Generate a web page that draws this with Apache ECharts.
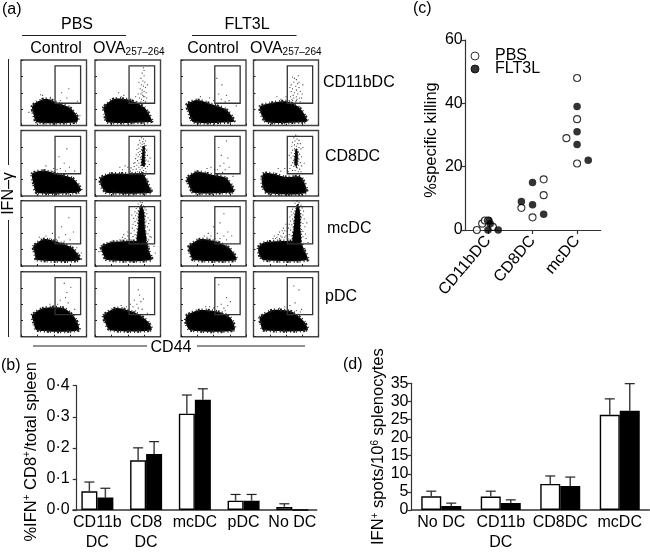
<!DOCTYPE html>
<html><head><meta charset="utf-8">
<style>html,body{margin:0;padding:0;background:#fff}#c{width:650px;height:553px}</style>
<script src="https://cdn.jsdelivr.net/npm/echarts@6/dist/echarts.min.js"></script>
</head><body><div id="c"></div>
<script>
// ---------- panel (b) ----------
const bCats = ['CD11b\nDC','CD8\nDC','mcDC','pDC','No DC'];
const bPBS = [0.06,0.16,0.31,0.03,0.01];
const bFLT = [0.04,0.18,0.355,0.03,0];
const bPBSTop = [0.09,0.20,0.37,0.05,0.02];
const bFLTTop = [0.07,0.22,0.39,0.05,0];
// ---------- panel (d) ----------
const dCats = ['No DC','CD11b\nDC','CD8DC','mcDC'];
const dPBS = [3.8,3.7,7.2,26.3];
const dFLT = [1.1,1.9,6.6,27.4];
const dPBSTop = [5.2,5.2,9.4,30.7];
const dFLTTop = [1.9,2.8,9.1,34.9];
// ---------- panel (c) ----------
const cCats = ['CD11bDC','CD8DC','mcDC'];
const cPBS = [[-0.25,0],[-0.13,2],[-0.07,3],[0.0,3],[0.11,1],[0.75,7],[1,4],[1.25,11],[1.25,16],[1.76,29],[2,48],[2,35],[2,21]];
const cFLT = [[0,0],[0.02,3],[0.05,2],[0.23,0],[0.75,9],[1,15],[1,8],[1.25,5],[2,39],[2,31],[2,27],[2.25,22]];
// ---------- panel (a): gate [xMin,xMax,yMin,yMax] and cell outlines, CD44 / IFN-g in % of plot ----------
const gate = [52,91,34,91];
const blobs = [
 [[17,29],[24,36],[39,41],[57,34],[75,27],[87,12],[85,5],[24,5],[19,17]],
 [[13,27],[20,35],[30,41],[53,39],[76,27],[87,7],[80,5],[18,5],[15,17]],
 [[9,32],[24,39],[49,32],[70,24],[82,7],[75,5],[19,5],[12,20]],
 [[10,29],[25,34],[50,37],[71,27],[83,7],[75,5],[20,5],[12,17]],
 [[17,34],[34,39],[54,34],[79,27],[92,9],[85,5],[24,5],[19,19]],
 [[8,27],[23,34],[56,34],[73,34],[83,14],[86,5],[18,5],[10,14]],
 [[9,27],[24,37],[50,32],[70,27],[82,7],[75,5],[19,5],[12,17]],
 [[15,34],[30,34],[50,29],[73,29],[81,5],[20,5],[13,19]],
 [[19,30],[34,41],[55,37],[79,27],[90,9],[24,9],[21,19]],
 [[10,30],[28,37],[78,37],[82,24],[86,9],[18,9],[12,19]],
 [[12,30],[29,41],[55,37],[75,27],[85,9],[19,9],[14,19]],
 [[8,30],[20,37],[71,37],[78,25],[83,9],[15,9],[8,19]],
 [[17,33],[34,44],[65,44],[83,28],[88,10],[24,10],[19,23]],
 [[13,33],[33,44],[63,36],[81,23],[86,10],[23,10],[15,23]],
 [[9,33],[29,41],[59,38],[77,28],[82,10],[14,10],[7,23]],
 [[10,30],[30,41],[60,38],[78,23],[83,10],[15,10],[11,20]]
];
// dense column of responding cells, only where the dots merge together
const cores = {
 5:[[71,46],[72,62],[73,76],[76,76],[76,60],[76,46]],
 7:[[63,50],[64,66],[65,72],[68,68],[68,52],[66,44]],
 9:[[64,37],[66,60],[67,82],[71,93],[75,82],[76,60],[78,37]],
 11:[[60,37],[62,58],[64,80],[68,95],[72,80],[72,58],[73,37]]
};
const dots = [
 [[45,43],[62,50],[73,56],[70,42],[60,38],[86,37],[30,47],[12,20],[90,15],[33,46],[48,40]],
 [[74,88],[72,80],[75,76],[70,72],[73,68],[76,66],[71,62],[74,60],[77,58],[69,56],[72,54],[75,52],[78,50],[70,48],[73,46],[76,44],[68,42],[71,40],[74,38],[77,36],[66,48],[79,42],[80,62],[67,66],[75,84],[62,44],[55,40],[44,46],[40,44],[36,50],[72,50],[74,44],[70,36],[64,36]],
 [[55,72],[63,62],[70,46],[58,48],[74,38],[62,40],[68,36],[44,42],[50,38],[30,44],[85,30]],
 [[60,74],[66,70],[62,66],[68,64],[58,62],[65,60],[70,58],[60,56],[66,54],[72,52],[58,52],[63,50],[68,48],[61,46],[66,44],[71,42],[57,44],[62,42],[67,40],[60,38],[65,36],[72,36],[55,38],[69,76],[75,48],[63,72],[56,58],[70,66],[50,44],[42,40],[36,44],[74,42],[76,62],[66,38],[59,40]],
 [[70,72],[58,60],[66,50],[74,44],[60,42],[82,38],[68,38],[50,42],[46,38],[38,46],[55,40]],
 [[71,89],[74,87],[68,85],[73,83],[77,84],[69,81],[72,79],[75,80],[66,78],[78,77],[70,76],[73,75],[76,73],[67,73],[64,71],[71,71],[79,70],[69,68],[74,68],[66,66],[77,66],[71,65],[63,63],[68,63],[73,62],[80,62],[66,60],[70,59],[76,59],[62,57],[69,56],[74,56],[78,55],[65,54],[71,53],[81,53],[61,51],[67,50],[73,50],[77,49],[64,47],[70,47],[75,46],[80,45],[60,45],[67,44],[72,43],[77,42],[63,41],[69,40],[74,39],[58,40],[65,37],[71,37],[78,37],[54,38],[50,44],[46,46],[42,40],[38,44],[83,48],[59,50],[84,58],[55,43]],
 [[70,84],[58,74],[62,62],[72,58],[66,50],[60,46],[74,44],[56,40],[68,40],[46,44],[52,40],[40,42],[80,30],[64,36]],
 [[65,93],[68,91],[62,89],[67,87],[70,85],[64,84],[60,82],[68,80],[72,80],[63,78],[66,76],[59,76],[70,74],[63,72],[67,71],[73,72],[60,70],[65,68],[69,67],[58,66],[63,65],[71,64],[66,63],[61,61],[68,60],[74,60],[58,58],[64,57],[70,56],[62,54],[67,53],[60,51],[72,51],[65,49],[69,47],[58,47],[62,45],[74,46],[67,43],[71,41],[56,42],[60,39],[64,39],[69,37],[73,37],[54,37],[78,50],[76,74],[55,62],[48,42],[42,38],[38,42]],
 [[62,60],[73,74],[68,48],[80,52],[48,50],[58,44],[75,40],[44,42],[38,46],[28,44],[66,38],[54,40],[85,28],[92,20]],
 [[69,98],[72,97],[66,95],[71,94],[74,92],[65,91],[68,90],[76,89],[63,88],[73,87],[78,86],[66,85],[61,83],[64,81],[76,82],[79,80],[62,77],[66,76],[77,76],[81,74],[59,73],[64,72],[75,71],[78,69],[61,68],[65,66],[76,66],[82,65],[58,64],[62,62],[77,61],[80,60],[57,58],[64,57],[75,56],[83,55],[60,54],[65,52],[78,52],[81,49],[55,50],[61,48],[76,47],[84,45],[58,45],[63,43],[79,42],[82,40],[50,46],[46,42],[42,44],[38,40],[53,41],[48,38],[44,38],[56,78],[84,70],[86,44],[90,30],[92,20],[6,22],[8,28],[50,52],[44,48]],
 [[60,66],[66,80],[50,60],[56,50],[72,52],[78,46],[46,46],[42,50],[40,44],[60,42],[70,40],[52,42],[36,46],[66,46]],
 [[67,99],[70,97],[64,96],[68,94],[73,93],[62,91],[66,90],[75,89],[60,87],[71,87],[64,85],[77,84],[58,83],[62,81],[73,80],[76,78],[59,78],[63,76],[56,75],[74,74],[78,72],[60,72],[57,69],[62,68],[73,67],[76,65],[55,64],[59,63],[72,62],[79,60],[61,59],[54,58],[57,55],[74,56],[76,53],[52,53],[60,52],[73,50],[80,49],[55,48],[50,46],[58,46],[76,45],[81,42],[53,42],[48,44],[46,50],[44,54],[42,46],[40,42],[38,48],[36,44],[34,42],[48,54],[46,58],[52,58],[44,44],[50,64],[84,36],[82,66],[40,52],[32,46],[30,42]],
 [[56,50],[66,82],[76,76],[70,68],[60,56],[64,46],[72,52],[58,44],[50,48],[44,50],[82,42],[68,60]],
 [[66,72],[68,64],[60,56],[70,54],[64,50],[74,58],[58,46],[66,44],[72,42],[54,50],[62,40],[48,46],[40,48],[80,36]],
 [[58,80],[70,60],[76,54],[62,50],[72,48],[66,44],[56,46],[50,44],[44,46],[38,46],[68,40]],
 [[62,78],[70,72],[56,48],[64,52],[74,42],[48,46],[52,44],[40,44],[72,38],[66,40]]
];
const colX = [[21,86.5],[95,160.5],[181,246],[253.5,318.5]];
const rowY = [[60,125.5],[130.5,196],[200.7,266],[271.7,336.7]];

const FONT = '"Liberation Sans",Arial,sans-serif';
const FS = 16;
const grids=[],xAxes=[],yAxes=[],series=[];

function polygon(points,xi,yi,style,z,smooth){
  series.push({type:'custom',coordinateSystem:'cartesian2d',xAxisIndex:xi,yAxisIndex:yi,silent:true,z:z,clip:false,
    encode:{x:0,y:1},data:points,
    renderItem:(p,api)=>p.dataIndex?null:{type:'polygon',shape:{points:points.map(q=>api.coord(q)),smooth:smooth},style:style}});
}
let idx=0;
rowY.forEach((ry,r)=>colX.forEach((cx,c)=>{
  const k=grids.length;
  grids.push({left:cx[0],top:ry[0],width:cx[1]-cx[0],height:ry[1]-ry[0],show:true,borderWidth:1.4,borderColor:'#444',backgroundColor:'#fff'});
  xAxes.push({gridIndex:k,type:'value',min:0,max:100,interval:25,axisLine:{show:false},splitLine:{show:false},axisLabel:{show:false},
    axisTick:{inside:true,length:2,lineStyle:{color:'#222',width:1}}});
  yAxes.push({gridIndex:k,type:'value',min:0,max:100,interval:25,axisLine:{show:false},splitLine:{show:false},axisLabel:{show:false},
    axisTick:{inside:true,length:2,lineStyle:{color:'#222',width:1}}});
  polygon(blobs[idx],k,k,{fill:'#000',stroke:'#222',lineWidth:3,lineDash:[1,1,2,2,1,3]},3,0.25);
  if(cores[idx]) polygon(cores[idx],k,k,{fill:'#000',stroke:'#111',lineWidth:1.6,lineDash:[1,2]},4,0.2);
  series.push({type:'scatter',xAxisIndex:k,yAxisIndex:k,symbol:'rect',symbolSize:1.1,silent:true,z:4,data:dots[idx],itemStyle:{color:'#222'}});
  series.push({type:'custom',xAxisIndex:k,yAxisIndex:k,silent:true,z:5,encode:{x:[0,1],y:[2,3]},data:[gate],
    renderItem:(p,api)=>{const a=api.coord([gate[0],gate[3]]),b=api.coord([gate[1],gate[2]]);
      return {type:'rect',shape:{x:a[0],y:a[1],width:b[0]-a[0],height:b[1]-a[1]},style:{fill:null,stroke:'#333',lineWidth:1.3}};}});
  idx++;
}));

const axisColor='#333';
function barPanel(cfg){
  const k=grids.length;
  grids.push({left:cfg.left,top:cfg.top,width:cfg.width,height:cfg.height});
  xAxes.push({gridIndex:k,type:'category',data:cfg.cats,axisTick:{show:false},
    axisLine:{lineStyle:{color:axisColor,width:1.5}},
    axisLabel:{color:'#000',fontFamily:FONT,fontSize:FS,lineHeight:20,margin:3,interval:0}});
  yAxes.push({gridIndex:k,type:'value',min:0,max:cfg.max,interval:cfg.step,offset:cfg.off,splitLine:{show:false},
    axisLine:{show:true,lineStyle:{color:axisColor,width:1.2}},axisTick:{show:true,length:4,lineStyle:{color:axisColor,width:1.2}},
    axisLabel:{color:'#000',fontFamily:FONT,fontSize:FS,margin:cfg.lm,formatter:cfg.fmt},
    name:cfg.name,nameLocation:'middle',nameGap:cfg.gap,
    nameTextStyle:{color:'#000',fontFamily:FONT,fontSize:16.5,padding:cfg.pad||0,rich:{sup:{fontFamily:FONT,fontSize:10,padding:[0,0,7,0]},n:{fontFamily:FONT,fontSize:16.5}}}});
  const bw=cfg.bw;
  [[cfg.a,cfg.aTop,'#fff','PBS bar',-bw/2],[cfg.b,cfg.bTop,'#000','FLT3L bar',bw/2]].forEach(([v,top,col,nm,dx])=>{
    series.push({type:'bar',name:nm,xAxisIndex:k,yAxisIndex:k,data:v,barWidth:bw,barGap:0,silent:true,
      itemStyle:{color:col,borderColor:'#000',borderWidth:1.4}});
    series.push({type:'custom',xAxisIndex:k,yAxisIndex:k,silent:true,z:1,encode:{x:0,y:[1,2]},
      data:v.map((y,i)=>[i,y,top[i]]),
      renderItem:(p,api)=>{
        const lo=api.coord([api.value(0),api.value(1)]),hi=api.coord([api.value(0),api.value(2)]);
        if(api.value(2)<=api.value(1)) return null;
        const x=lo[0]+dx;
        return {type:'group',children:[
          {type:'line',shape:{x1:x,y1:lo[1],x2:x,y2:hi[1]},style:{stroke:'#444',lineWidth:1.5}},
          {type:'line',shape:{x1:x-5,y1:hi[1],x2:x+5,y2:hi[1]},style:{stroke:'#222',lineWidth:1.2}}]};
      }});
  });
}
barPanel({left:73,top:385.7,width:243.7,height:124.3,cats:bCats,max:0.4,step:0.1,off:-3.7,bw:16,lm:7,
  fmt:v=>v.toFixed(1).replace('.','·'),a:bPBS,b:bFLT,aTop:bPBSTop,bTop:bFLTTop,
  name:'%IFN{sup|+} CD8{sup|+}/total spleen',gap:37,pad:[0,8,0,0]});
barPanel({left:411.5,top:383.3,width:238,height:127,cats:dCats,max:35,step:5,off:0,bw:20,lm:3,
  fmt:v=>String(v),a:dPBS,b:dFLT,aTop:dPBSTop,bTop:dFLTTop,
  name:'IFN{sup|+} spots/10{sup|6} splenocytes',gap:21});

{
  const k=grids.length;
  grids.push({left:465.7,top:40,width:135,height:190});
  xAxes.push({gridIndex:k,type:'value',min:-0.5,max:2.53,splitLine:{show:false},
    axisLine:{lineStyle:{color:axisColor,width:1.2}},
    axisTick:{show:true,length:4,customValues:[0,1,2],lineStyle:{color:axisColor,width:1.2}},
    axisLabel:{color:'#000',fontFamily:FONT,fontSize:FS,rotate:50,margin:8,customValues:[0,1,2],formatter:v=>cCats[Math.round(v)]}});
  yAxes.push({gridIndex:k,type:'value',min:0,max:60,interval:20,splitLine:{show:false},
    axisLine:{show:true,onZero:false,lineStyle:{color:axisColor,width:1.2}},axisTick:{show:true,length:4,lineStyle:{color:axisColor,width:1.2}},
    axisLabel:{color:'#000',fontFamily:FONT,fontSize:FS,margin:3},
    name:'%specific killing',nameLocation:'middle',nameGap:26,
    nameTextStyle:{color:'#000',fontFamily:FONT,fontSize:16.5,padding:[0,10,0,0]}});
  series.push({type:'scatter',name:'PBS',xAxisIndex:k,yAxisIndex:k,data:cPBS,symbol:'circle',symbolSize:7,clip:false,z:3,
    itemStyle:{color:'#fff',borderColor:'#000',borderWidth:1.1}});
  series.push({type:'scatter',name:'FLT3L',xAxisIndex:k,yAxisIndex:k,data:cFLT,symbol:'circle',symbolSize:7.5,clip:false,z:4,
    itemStyle:{color:'#000',borderColor:'#000',borderWidth:0}});
}
const T=(text,x,y,align,extra)=>Object.assign({type:'text',x:x,y:y,silent:true,
  style:Object.assign({text:text,fill:'#000',font:FS+'px '+FONT,textAlign:align||'left',textVerticalAlign:'middle'},extra||{})});
const L=(x1,y1,x2,y2)=>({type:'line',silent:true,shape:{x1,y1,x2,y2},style:{stroke:'#222',lineWidth:1}});
const sub={rich:{s:{fontFamily:FONT,fontSize:10,padding:[6,0,0,0]},n:{fontFamily:FONT,fontSize:FS}}};
const graphics=[
  T('(a)',2,10),T('(b)',1,366),T('(c)',413,9),T('(d)',343,365),
  T('PBS',77,25,'center'),T('FLT3L',247,25,'center'),
  L(22,35.5,126,35.5),L(192,35.5,296.5,35.5),
  T('Control',56,49,'center'),T('Control',213,49,'center'),
  T('{n|OVA}{s|257–264}',93,49,'left',sub),T('{n|OVA}{s|257–264}',250,49,'left',sub),
  T('CD11bDC',323,83),T('CD8DC',325,157),T('mcDC',327,229),T('pDC',325,297),
  L(8.5,59,8.5,165),L(8.5,220,8.5,337),
  {type:'text',x:9,y:193.5,rotation:Math.PI/2,silent:true,style:{text:'IFN–γ',fill:'#000',font:FS+'px '+FONT,textAlign:'center',textVerticalAlign:'middle'}},
  T('CD44',171,348,'center'),L(33,346,147,346),L(197,346,305,346)
];
const chart=echarts.init(document.getElementById('c'),null,{renderer:'canvas'});
chart.setOption({animation:false,backgroundColor:'#fff',textStyle:{fontFamily:FONT},
  grid:grids,xAxis:xAxes,yAxis:yAxes,series:series,graphic:graphics,
  legend:{data:['PBS','FLT3L'],orient:'vertical',left:465.5,top:43,itemWidth:8,itemHeight:8,itemGap:-3,selectedMode:false,
    itemStyle:{borderWidth:1},
    textStyle:{color:'#000',fontFamily:FONT,fontSize:FS,lineHeight:14,padding:[0,0,0,11]}},
  tooltip:{show:false}});
</script></body></html>
